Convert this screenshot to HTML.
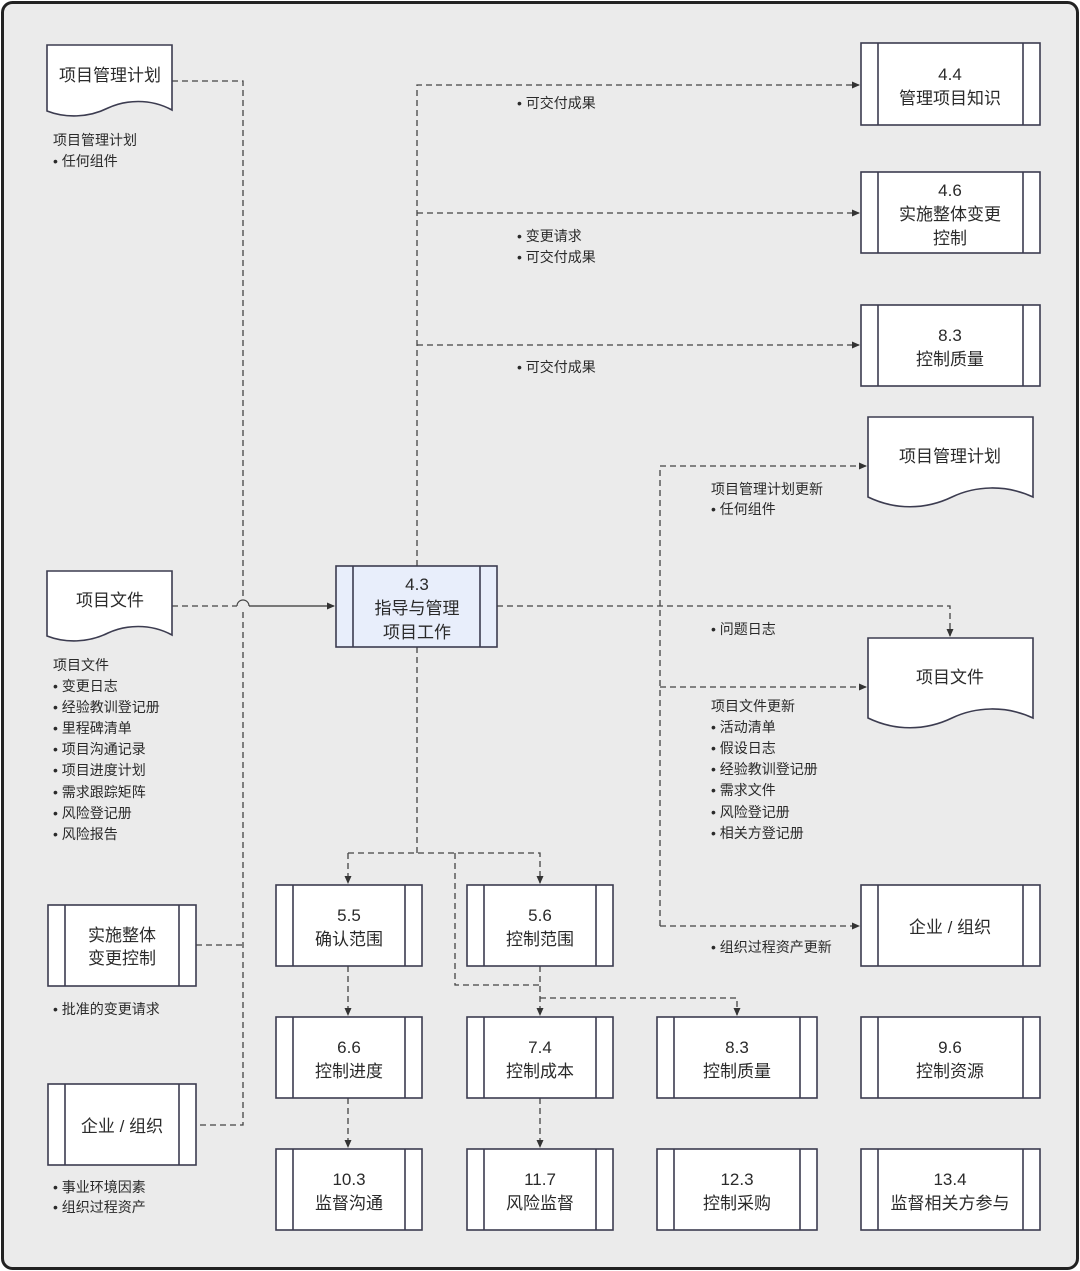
<!DOCTYPE html>
<html><head><meta charset="utf-8"><style>
html,body{margin:0;padding:0;background:#fff;}
svg{display:block;}
text{font-family:"Liberation Sans","Noto Sans CJK SC",sans-serif;fill:#2a2a2a;}
.t{font-size:17px;text-anchor:middle;}
.s{font-size:14px;}
.b{fill:#fff;stroke:#3c3c50;stroke-width:1.6;}
.d{fill:none;stroke:#444;stroke-width:1.3;stroke-dasharray:6,4;}
</style></head><body>
<svg width="1080" height="1271" viewBox="0 0 1080 1271" xmlns="http://www.w3.org/2000/svg">
<defs><marker id="a" markerWidth="8" markerHeight="8" refX="7" refY="4" orient="auto" markerUnits="userSpaceOnUse"><path d="M0,0.5 L8,4 L0,7.5 Z" fill="#333"/></marker></defs>
<rect x="2.5" y="2.5" width="1075" height="1266" rx="10" fill="#ebebeb" stroke="#222" stroke-width="3"/>

<!-- connectors -->
<path class="d" d="M172,81 H243 V600"/>
<path class="d" d="M243,612 V1125 H196"/>
<path class="d" d="M172,606 H237"/>
<path d="M237,606 A6,6 0 0 1 249,606" fill="none" stroke="#444" stroke-width="1.2"/>
<path d="M249,606 H334" fill="none" stroke="#333" stroke-width="1.3" marker-end="url(#a)"/>
<path class="d" d="M196,945 H243"/>

<path class="d" d="M417,566 V85 H859" marker-end="url(#a)"/>
<path class="d" d="M417,213 H859" marker-end="url(#a)"/>
<path class="d" d="M417,345 H859" marker-end="url(#a)"/>

<path class="d" d="M497,606 H950 V636" marker-end="url(#a)"/>
<path class="d" d="M660,926 V466 H866" marker-end="url(#a)"/>
<path class="d" d="M660,687 H866" marker-end="url(#a)"/>
<path class="d" d="M660,926 H859" marker-end="url(#a)"/>

<path class="d" d="M417,647 V853"/>
<path class="d" d="M348,853 H540 V883" marker-end="url(#a)"/>
<path class="d" d="M348,853 V883" marker-end="url(#a)"/>
<path class="d" d="M455,853 V985 H540"/>
<path class="d" d="M540,966 V1015" marker-end="url(#a)"/>
<path class="d" d="M540,998 H737 V1015" marker-end="url(#a)"/>
<path class="d" d="M348,966 V1015" marker-end="url(#a)"/>
<path class="d" d="M348,1098 V1147" marker-end="url(#a)"/>
<path class="d" d="M540,1098 V1147" marker-end="url(#a)"/>

<!-- doc shapes -->
<path class="b" d="M47,45 H172 V110 C150,98 125,100 108,108 C88,118 65,118 47,111 Z"/>
<text class="t" x="110" y="81">项目管理计划</text>
<path class="b" d="M47,571 H172 V635 C150,623 125,625 108,633 C88,643 65,643 47,636 Z"/>
<text class="t" x="110" y="606">项目文件</text>
<path class="b" d="M868,417 H1033 V497 C1005,484 975,486 952,497 C925,510 895,510 868,497 Z"/>
<text class="t" x="950" y="462">项目管理计划</text>
<path class="b" d="M868,638 H1033 V718 C1005,705 975,707 952,718 C925,731 895,731 868,718 Z"/>
<text class="t" x="950" y="683">项目文件</text>

<!-- process boxes -->
<g>
<rect class="b" x="861" y="43" width="179" height="82"/><path class="b" d="M878,43 V125 M1023,43 V125"/>
<text class="t" x="950" y="80">4.4</text><text class="t" x="950" y="104">管理项目知识</text>

<rect class="b" x="861" y="172" width="179" height="81"/><path class="b" d="M878,172 V253 M1023,172 V253"/>
<text class="t" x="950" y="196">4.6</text><text class="t" x="950" y="220">实施整体变更</text><text class="t" x="950" y="244">控制</text>

<rect class="b" x="861" y="305" width="179" height="81"/><path class="b" d="M878,305 V386 M1023,305 V386"/>
<text class="t" x="950" y="341">8.3</text><text class="t" x="950" y="365">控制质量</text>

<rect x="336" y="566" width="161" height="81" fill="#e8eefb" stroke="#3c3c50" stroke-width="1.6"/><path class="b" d="M353,566 V647 M480,566 V647"/>
<text class="t" x="417" y="590">4.3</text><text class="t" x="417" y="614">指导与管理</text><text class="t" x="417" y="638">项目工作</text>

<rect class="b" x="861" y="885" width="179" height="81"/><path class="b" d="M878,885 V966 M1023,885 V966"/>
<text class="t" x="950" y="933">企业 / 组织</text>

<rect class="b" x="48" y="905" width="148" height="81"/><path class="b" d="M65,905 V986 M179,905 V986"/>
<text class="t" x="122" y="941">实施整体</text><text class="t" x="122" y="964">变更控制</text>

<rect class="b" x="48" y="1084" width="148" height="81"/><path class="b" d="M65,1084 V1165 M179,1084 V1165"/>
<text class="t" x="122" y="1132">企业 / 组织</text>

<rect class="b" x="276" y="885" width="146" height="81"/><path class="b" d="M293,885 V966 M405,885 V966"/>
<text class="t" x="349" y="921">5.5</text><text class="t" x="349" y="945">确认范围</text>
<rect class="b" x="467" y="885" width="146" height="81"/><path class="b" d="M484,885 V966 M596,885 V966"/>
<text class="t" x="540" y="921">5.6</text><text class="t" x="540" y="945">控制范围</text>

<rect class="b" x="276" y="1017" width="146" height="81"/><path class="b" d="M293,1017 V1098 M405,1017 V1098"/>
<text class="t" x="349" y="1053">6.6</text><text class="t" x="349" y="1077">控制进度</text>
<rect class="b" x="467" y="1017" width="146" height="81"/><path class="b" d="M484,1017 V1098 M596,1017 V1098"/>
<text class="t" x="540" y="1053">7.4</text><text class="t" x="540" y="1077">控制成本</text>
<rect class="b" x="657" y="1017" width="160" height="81"/><path class="b" d="M674,1017 V1098 M800,1017 V1098"/>
<text class="t" x="737" y="1053">8.3</text><text class="t" x="737" y="1077">控制质量</text>
<rect class="b" x="861" y="1017" width="179" height="81"/><path class="b" d="M878,1017 V1098 M1023,1017 V1098"/>
<text class="t" x="950" y="1053">9.6</text><text class="t" x="950" y="1077">控制资源</text>

<rect class="b" x="276" y="1149" width="146" height="81"/><path class="b" d="M293,1149 V1230 M405,1149 V1230"/>
<text class="t" x="349" y="1185">10.3</text><text class="t" x="349" y="1209">监督沟通</text>
<rect class="b" x="467" y="1149" width="146" height="81"/><path class="b" d="M484,1149 V1230 M596,1149 V1230"/>
<text class="t" x="540" y="1185">11.7</text><text class="t" x="540" y="1209">风险监督</text>
<rect class="b" x="657" y="1149" width="160" height="81"/><path class="b" d="M674,1149 V1230 M800,1149 V1230"/>
<text class="t" x="737" y="1185">12.3</text><text class="t" x="737" y="1209">控制采购</text>
<rect class="b" x="861" y="1149" width="179" height="81"/><path class="b" d="M878,1149 V1230 M1023,1149 V1230"/>
<text class="t" x="950" y="1185">13.4</text><text class="t" x="950" y="1209">监督相关方参与</text>
</g>

<!-- labels -->
<g class="s">
<text x="53" y="145">项目管理计划</text>
<text x="53" y="166">• 任何组件</text>

<text x="53" y="670">项目文件</text>
<text x="53" y="691">• 变更日志</text>
<text x="53" y="712">• 经验教训登记册</text>
<text x="53" y="733">• 里程碑清单</text>
<text x="53" y="754">• 项目沟通记录</text>
<text x="53" y="775">• 项目进度计划</text>
<text x="53" y="797">• 需求跟踪矩阵</text>
<text x="53" y="818">• 风险登记册</text>
<text x="53" y="839">• 风险报告</text>

<text x="53" y="1014">• 批准的变更请求</text>
<text x="53" y="1192">• 事业环境因素</text>
<text x="53" y="1212">• 组织过程资产</text>

<text x="517" y="108">• 可交付成果</text>
<text x="517" y="241">• 变更请求</text>
<text x="517" y="262">• 可交付成果</text>
<text x="517" y="372">• 可交付成果</text>

<text x="711" y="494">项目管理计划更新</text>
<text x="711" y="514">• 任何组件</text>
<text x="711" y="634">• 问题日志</text>
<text x="711" y="711">项目文件更新</text>
<text x="711" y="732">• 活动清单</text>
<text x="711" y="753">• 假设日志</text>
<text x="711" y="774">• 经验教训登记册</text>
<text x="711" y="795">• 需求文件</text>
<text x="711" y="817">• 风险登记册</text>
<text x="711" y="838">• 相关方登记册</text>
<text x="711" y="952">• 组织过程资产更新</text>
</g>
</svg>
</body></html>
